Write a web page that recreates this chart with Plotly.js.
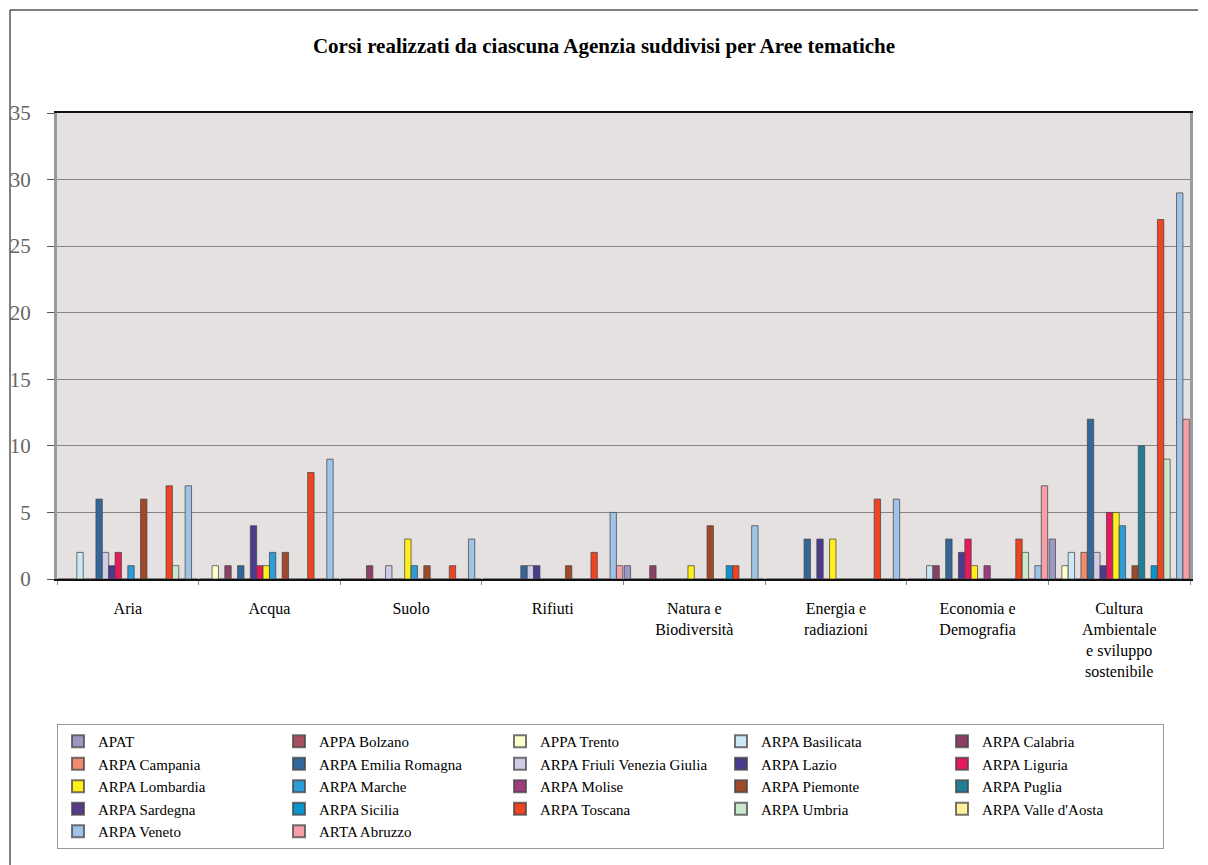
<!DOCTYPE html>
<html>
<head>
<meta charset="utf-8">
<script src="https://cdn.plot.ly/plotly-3.0.1.min.js"></script>
<style>html,body{margin:0;padding:0;background:#fff;}#chart{width:1208px;height:865px;}</style>
</head>
<body>
<div id="chart"></div>
<script>
// Categories (thematic areas)
const categories = ["Aria", "Acqua", "Suolo", "Rifiuti", "Natura e<br>Biodiversità", "Energia e<br>radiazioni", "Economia e<br>Demografia", "Cultura<br>Ambientale<br>e sviluppo<br>sostenibile"];

// Series names (agencies)
const seriesNames = ["APAT", "APPA Bolzano", "APPA Trento", "ARPA Basilicata", "ARPA Calabria", "ARPA Campania", "ARPA Emilia Romagna", "ARPA Friuli Venezia Giulia", "ARPA Lazio", "ARPA Liguria", "ARPA Lombardia", "ARPA Marche", "ARPA Molise", "ARPA Piemonte", "ARPA Puglia", "ARPA Sardegna", "ARPA Sicilia", "ARPA Toscana", "ARPA Umbria", "ARPA Valle d'Aosta", "ARPA Veneto", "ARTA Abruzzo"];

// Values per agency, in category order
const APAT            = [0, 0, 0, 0, 1, 0, 0, 3];
const APPA_Bolzano    = [0, 0, 0, 0, 0, 0, 0, 0];
const APPA_Trento     = [0, 1, 0, 0, 0, 0, 0, 1];
const ARPA_Basilicata = [2, 0, 0, 0, 0, 0, 1, 2];
const ARPA_Calabria   = [0, 1, 1, 0, 1, 0, 1, 0];
const ARPA_Campania   = [0, 0, 0, 0, 0, 0, 0, 2];
const ARPA_Emilia     = [6, 1, 0, 1, 0, 3, 3, 12];
const ARPA_Friuli     = [2, 0, 1, 1, 0, 0, 0, 2];
const ARPA_Lazio      = [1, 4, 0, 1, 0, 3, 2, 1];
const ARPA_Liguria    = [2, 1, 0, 0, 0, 0, 3, 5];
const ARPA_Lombardia  = [0, 1, 3, 0, 1, 3, 1, 5];
const ARPA_Marche     = [1, 2, 1, 0, 0, 0, 0, 4];
const ARPA_Molise     = [0, 0, 0, 0, 0, 0, 1, 0];
const ARPA_Piemonte   = [6, 2, 1, 1, 4, 0, 0, 1];
const ARPA_Puglia     = [0, 0, 0, 0, 0, 0, 0, 10];
const ARPA_Sardegna   = [0, 0, 0, 0, 0, 0, 0, 0];
const ARPA_Sicilia    = [0, 0, 0, 0, 1, 0, 0, 1];
const ARPA_Toscana    = [7, 8, 1, 2, 1, 6, 3, 27];
const ARPA_Umbria     = [1, 0, 0, 0, 0, 0, 2, 9];
const ARPA_ValleAosta = [0, 0, 0, 0, 0, 0, 0, 0];
const ARPA_Veneto     = [7, 9, 3, 5, 4, 6, 1, 29];
const ARTA_Abruzzo    = [0, 0, 0, 1, 0, 0, 7, 12];

const seriesValues = [APAT, APPA_Bolzano, APPA_Trento, ARPA_Basilicata, ARPA_Calabria, ARPA_Campania, ARPA_Emilia, ARPA_Friuli, ARPA_Lazio, ARPA_Liguria, ARPA_Lombardia, ARPA_Marche, ARPA_Molise, ARPA_Piemonte, ARPA_Puglia, ARPA_Sardegna, ARPA_Sicilia, ARPA_Toscana, ARPA_Umbria, ARPA_ValleAosta, ARPA_Veneto, ARTA_Abruzzo];

const seriesColors = ["#9d97c6", "#a8505f", "#ffffcc", "#cce8f4", "#8e3f68", "#f08a70", "#336699", "#d0cce6", "#4a3c8c", "#e8195a", "#ffef1a", "#2e9cd6", "#a03c7c", "#a0482a", "#1f7f94", "#5a3a8a", "#0b95cf", "#ee4422", "#cce8cc", "#fff0a0", "#a0c4e8", "#f5a0a8"];

const SERIF = "Times New Roman";

const traces = seriesNames.map((name, i) => ({
  type: "bar",
  name: name,
  x: categories,
  y: seriesValues[i],
  marker: { color: seriesColors[i], line: { color: "rgba(70,70,70,0.75)", width: 1 } },
  hoverinfo: "name+y"
}));

const W = 1208, H = 865;
const mL = 57, mR = 18, mT = 113, mB = 286;
const plotW = W - mL - mR, plotH = H - mT - mB;
const px = x => (x - mL) / plotW;
const py = y => (H - mB - y) / plotH;

const layout = {
  width: W, height: H,
  margin: { l: mL, r: mR, t: mT, b: mB, pad: 0 },
  paper_bgcolor: "#ffffff",
  plot_bgcolor: "#e5e1e1",
  font: { family: SERIF, color: "#000" },
  title: {
    text: "<b>Corsi realizzati da ciascuna Agenzia suddivisi per Aree tematiche</b>",
    font: { family: SERIF, size: 21, color: "#000" },
    x: 0.5, xanchor: "center", y: 1 - 46 / H, yanchor: "middle"
  },
  barmode: "group",
  bargap: 0.01,
  bargroupgap: 0,
  xaxis: {
    type: "category",
    showline: true, linecolor: "#111", linewidth: 2, mirror: true,
    ticks: "outside", tickson: "boundaries", ticklen: 4, tickcolor: "#888",
    ticklabelstandoff: 14,
    tickfont: { family: SERIF, size: 16, color: "#000" },
    showgrid: false, zeroline: false,
    automargin: false
  },
  yaxis: {
    range: [0, 35], dtick: 5, tick0: 0,
    showline: true, linecolor: "#9a9a9a", linewidth: 3, mirror: true,
    ticks: "outside", ticklen: 7, tickcolor: "#555",
    ticklabelstandoff: 12,
    tickfont: { family: SERIF, size: 21, color: "#666" },
    showgrid: true, gridcolor: "#858585", gridwidth: 1,
    zeroline: false,
    automargin: false
  },
  showlegend: true,
  legend: {
    orientation: "h",
    x: 0, xanchor: "left",
    y: py(724), yanchor: "top",
    entrywidth: 176, entrywidthmode: "pixels",
    traceorder: "normal",
    font: { family: SERIF, size: 15, color: "#000" },
    bordercolor: "#999", borderwidth: 1,
    bgcolor: "#fff",
    itemsizing: "constant"
  },
  shapes: [
    { type: "line", xref: "paper", yref: "paper", x0: px(10), x1: px(10), y0: py(10), y1: py(865), line: { color: "#000", width: 1 } },
    { type: "line", xref: "paper", yref: "paper", x0: px(10), x1: px(1198), y0: py(10), y1: py(10), line: { color: "#000", width: 1 } }
  ]
};

Plotly.newPlot("chart", traces, layout, { displayModeBar: false, staticPlot: true });
</script>
</body>
</html>
